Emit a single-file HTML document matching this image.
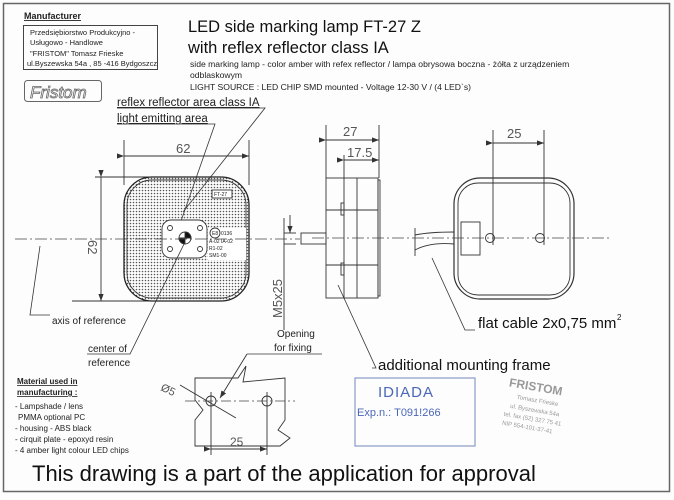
<!DOCTYPE html>
<html><head><meta charset="utf-8"><style>
html,body{margin:0;padding:0;background:#fff;}
svg{display:block;font-family:"Liberation Sans",sans-serif;}
</style></head><body>
<svg width="674" height="500" viewBox="0 0 674 500" xmlns="http://www.w3.org/2000/svg">
<defs>
<pattern id="dots" width="3" height="3" patternUnits="userSpaceOnUse"><circle cx="1.5" cy="1.5" r="0.8" fill="#555"/></pattern>
<marker id="ar" markerWidth="8" markerHeight="6" refX="8" refY="3" orient="auto"><path d="M0,0 L8,3 L0,6 z" fill="#333"/></marker>
</defs>
<rect x="0" y="0" width="674" height="500" fill="#fdfdfd"/>
<rect x="3.5" y="3.5" width="666" height="488" fill="none" stroke="#666" stroke-width="1.5"/>

<text x="24" y="19" font-size="9" font-weight="bold" text-decoration="underline" fill="#222">Manufacturer</text>
<rect x="23.5" y="25.5" width="134" height="44" fill="none" stroke="#444"/>
<g font-size="7.5" fill="#222">
<text x="30" y="35">Przedsiębiorstwo Produkcyjno -</text>
<text x="30" y="45">Usługowo - Handlowe</text>
<text x="30" y="56">"FRISTOM" Tomasz Frieske</text>
<text x="27" y="66">ul.Byszewska 54a , 85 -416 Bydgoszcz</text>
</g>
<rect x="24.5" y="80.5" width="77" height="21" rx="3" fill="none" stroke="#666"/>
<text x="30" y="98" font-size="17" font-style="italic" fill="none" stroke="#666" stroke-width="0.8">Fristom</text>

<text x="188" y="32" font-size="16.5" fill="#111">LED side marking lamp FT-27 Z</text>
<text x="188" y="53" font-size="16.5" fill="#111">with reflex reflector  class IA</text>
<g font-size="8.6" fill="#222">
<text x="190" y="67">side marking lamp - color amber with refex reflector / lampa obrysowa boczna - żółta z  urządzeniem</text>
<text x="190" y="78">odblaskowym</text>
<text x="190" y="90">LIGHT SOURCE : LED CHIP SMD mounted - Voltage 12-30 V / (4 LED`s)</text>
</g>

<text x="117" y="106" font-size="11.5" fill="#222" text-decoration="underline">reflex reflector area class IA</text>
<text x="117" y="122" font-size="11.5" fill="#222" text-decoration="underline">light emitting area</text>
<polyline points="117,108 265,108 183,212" fill="none" stroke="#333" stroke-width="0.8"/>
<polyline points="117,124 215,124 180,224" fill="none" stroke="#333" stroke-width="0.8"/>

<g stroke="#333" fill="none" stroke-width="0.9">
<line x1="124" y1="140" x2="124" y2="185"/><line x1="249" y1="140" x2="249" y2="185"/>
<line x1="124" y1="156" x2="249" y2="156" marker-start="url(#ar)" marker-end="url(#ar)"/>
<line x1="95" y1="177" x2="160" y2="177"/><line x1="72" y1="301" x2="160" y2="301"/>
<line x1="101" y1="177" x2="101" y2="301" marker-start="url(#ar)" marker-end="url(#ar)"/>
<rect x="124" y="177" width="125" height="124" rx="28" fill="url(#dots)" stroke="#222" stroke-width="1.3"/>
<rect x="127" y="180" width="119" height="118" rx="25"/>
<rect x="162" y="220" width="45" height="38" rx="9" fill="#fff"/>
<rect x="212" y="190" width="20" height="8" fill="#fff"/>
<circle cx="185" cy="238" r="6" fill="#fff"/>
<path d="M185,232 A6,6 0 0 1 191,238 L185,238z M185,244 A6,6 0 0 1 179,238 L185,238z" fill="#111"/>
<circle cx="170" cy="228" r="2.5"/><circle cx="200" cy="228" r="2.5"/><circle cx="170" cy="249" r="2.5"/><circle cx="200" cy="249" r="2.5"/>
<rect x="208" y="228" width="38" height="32" fill="#fff" stroke="none"/>
<circle cx="215" cy="233" r="5"/>
</g>
<g font-size="5" fill="#222"><text x="214" y="196">FT-27</text><text x="221" y="235">0136</text><text x="209" y="243">A-02 IA-02</text><text x="209" y="250">R1-02</text><text x="209" y="257">SM1-00</text><text x="212" y="235">E8</text></g>
<text x="176" y="153" font-size="13" fill="#555">62</text>
<text x="96" y="248" font-size="13" fill="#555" transform="rotate(90 96 240)">62</text>
<line x1="15" y1="239" x2="300" y2="239" stroke="#444" stroke-width="0.8" stroke-dasharray="12,3,2,3"/>
<polyline points="40,246 30,315 50,315" fill="none" stroke="#333" stroke-width="0.8"/>
<text x="52" y="324" font-size="10" fill="#222">axis of reference</text>
<polyline points="87,354 130,354 185,242" fill="none" stroke="#333" stroke-width="0.8"/>
<text x="88" y="352" font-size="10" fill="#222">center of</text>
<text x="88" y="366" font-size="10" fill="#222">reference</text>

<g stroke="#333" fill="none" stroke-width="0.9">
<line x1="326" y1="125" x2="326" y2="178"/><line x1="379" y1="125" x2="379" y2="178"/>
<line x1="326" y1="140" x2="379" y2="140" marker-start="url(#ar)" marker-end="url(#ar)"/>
<line x1="344" y1="155" x2="344" y2="178"/>
<line x1="344" y1="160" x2="379" y2="160" marker-start="url(#ar)" marker-end="url(#ar)"/>
<rect x="326" y="178" width="52" height="120"/>
<line x1="344" y1="178" x2="344" y2="298"/><line x1="357" y1="178" x2="357" y2="298"/>
<rect x="378" y="180" width="2" height="116"/>
<rect x="341" y="203" width="3" height="12"/><rect x="341" y="263" width="3" height="12"/>
<line x1="326" y1="265" x2="378" y2="265"/><line x1="326" y1="210" x2="378" y2="210"/>
<rect x="301" y="233" width="25" height="11"/>
<line x1="284" y1="218" x2="284" y2="330"/>
<line x1="284" y1="233" x2="296" y2="233"/>
<line x1="284" y1="244" x2="296" y2="244"/>
<line x1="290" y1="215" x2="290" y2="233" marker-end="url(#ar)"/>
<line x1="493" y1="130" x2="493" y2="245"/><line x1="544" y1="130" x2="544" y2="245"/>
<line x1="493" y1="143" x2="544" y2="143" marker-start="url(#ar)" marker-end="url(#ar)"/>
<rect x="454" y="178" width="120" height="121" rx="26" stroke-width="1.2"/>
<rect x="458" y="183" width="112" height="112" rx="20"/>
<rect x="461" y="222" width="19" height="33" fill="#fff"/>
<circle cx="490" cy="238" r="4.5"/><circle cx="540" cy="238" r="4.5"/>
<path d="M415,235 Q430,232 454,232 M415,250 Q430,242 454,244"/>
<line x1="415" y1="228" x2="415" y2="256"/>
</g>
<line x1="312" y1="238" x2="610" y2="238" stroke="#444" stroke-width="0.8" stroke-dasharray="12,3,2,3"/>
<text x="343" y="136" font-size="13" fill="#555">27</text>
<text x="347" y="157" font-size="13" fill="#555">17.5</text>
<text x="507" y="138" font-size="13" fill="#555">25</text>
<text x="282" y="318" font-size="13" fill="#555" transform="rotate(-90 282 318)">M5x25</text>

<polyline points="338,285 376,368 372,368" fill="none" stroke="#333" stroke-width="0.8"/>
<text x="378" y="370" font-size="15" fill="#111">additional mounting frame</text>
<polyline points="432,258 465,330 475,330" fill="none" stroke="#333" stroke-width="0.8"/>
<text x="478" y="328" font-size="15" fill="#111">flat cable 2x0,75 mm</text>
<text x="617" y="320" font-size="8" fill="#111">2</text>

<text x="277" y="337" font-size="10" fill="#222">Opening</text>
<text x="274" y="351" font-size="10" fill="#222">for fixing</text>
<line x1="247" y1="354" x2="322" y2="354" stroke="#333" stroke-width="0.8"/>
<g stroke="#333" fill="none" stroke-width="0.9">
<path d="M195,378 L238,378 L246,366 L243,382 L285,378 L285,420 L278,430 L290,438 L280,446 L195,446 L195,420 L203,410 L195,400 Z"/>
<path d="M247,354 L220,398" marker-end="url(#ar)"/>
<circle cx="211" cy="401" r="5"/><circle cx="267" cy="401" r="5"/>
<line x1="211" y1="392" x2="211" y2="455"/><line x1="267" y1="392" x2="267" y2="455"/>
<line x1="211" y1="449" x2="267" y2="449" marker-start="url(#ar)" marker-end="url(#ar)"/>
<line x1="180" y1="385" x2="236" y2="418"/>
</g>
<line x1="185" y1="401" x2="295" y2="401" stroke="#444" stroke-width="0.8" stroke-dasharray="10,3,2,3"/>
<text x="230" y="446" font-size="12" fill="#555">25</text>
<text x="160" y="390" font-size="11" fill="#555" transform="rotate(25 160 390)">Ø5</text>

<g font-size="8" fill="#222">
<text x="17" y="384" font-weight="bold" text-decoration="underline">Material used in</text>
<text x="17" y="395" font-weight="bold" text-decoration="underline">manufacturing :</text>
<text x="15" y="409">- Lampshade / lens</text>
<text x="18" y="420">PMMA optional PC</text>
<text x="15" y="431">- housing - ABS black</text>
<text x="15" y="442">- cirquit plate - epoxyd resin</text>
<text x="15" y="453">- 4 amber light colour LED chips</text>
</g>

<rect x="355" y="378" width="120" height="68" fill="none" stroke="#8a9ac8" stroke-width="1.2"/>
<text x="378" y="397" font-size="15" fill="#4a67b8" letter-spacing="1">IDIADA</text>
<text x="357" y="416" font-size="11" fill="#4a67b8">Exp.n.: T091!266</text>
<g fill="#999" transform="rotate(10 540 410)">
<text x="505" y="392" font-size="12" font-weight="bold">FRISTOM</text>
<text x="515" y="403" font-size="6">Tomasz Frieske</text>
<text x="510" y="413" font-size="6">ul. Byszewska 54a</text>
<text x="505" y="422" font-size="6">tel. fax (52) 327 75 41</text>
<text x="505" y="431" font-size="6">NIP 554-101-37-41</text>
</g>

<text x="32" y="481" font-size="22" fill="#111">This drawing is a part of the application for approval</text>
</svg>
</body></html>
